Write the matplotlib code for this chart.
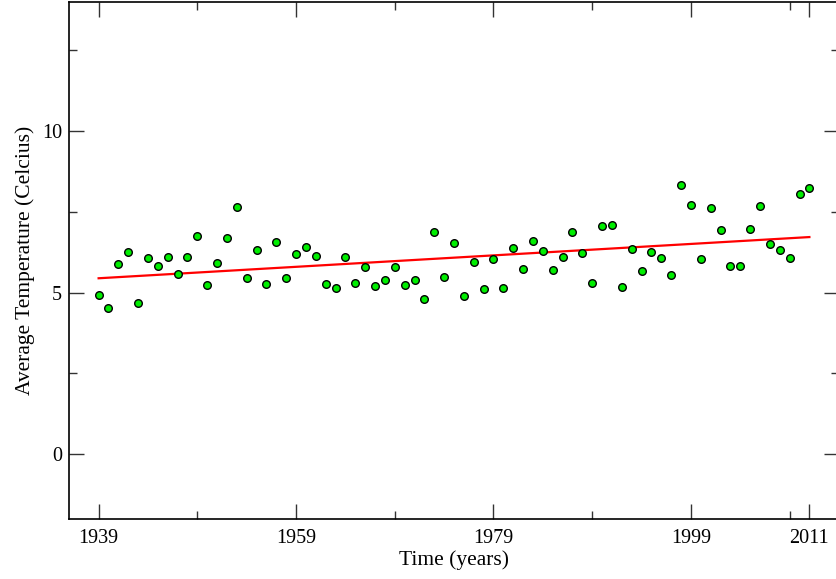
import numpy as np
import matplotlib
matplotlib.use("Agg")
import matplotlib.pyplot as plt
from matplotlib.ticker import FixedLocator

plt.rcParams["font.family"] = ["Liberation Serif", "DejaVu Serif"]

years = np.arange(1939, 2012)
temps = [
    4.94, 4.53, 5.87, 6.26, 4.68, 6.08, 5.82, 6.11, 5.59, 6.11,
    6.75, 5.22, 5.90, 6.68, 7.66, 5.45, 6.31, 5.26, 6.56, 5.46,
    6.19, 6.42, 6.13, 5.27, 5.15, 6.10, 5.29, 5.78, 5.19, 5.38,
    5.78, 5.23, 5.39, 4.80, 6.87, 5.49, 6.52, 4.89, 5.94, 5.12,
    6.04, 5.15, 6.39, 5.72, 6.58, 6.29, 5.71, 6.10, 6.88, 6.23,
    5.29, 7.06, 7.10, 5.17, 6.35, 5.67, 6.27, 6.06, 5.53, 8.33,
    7.71, 6.04, 7.61, 6.93, 5.83, 5.81, 6.97, 7.68, 6.49, 6.32,
    6.07, 8.04, 8.24,
]
x_major = [1939, 1959, 1979, 1999, 2011]
x_minor = [1949, 1969, 1989, 2009]

temps = np.array(temps)
slope, intercept = np.polyfit(years, temps, 1)

# right edge of the axes runs just past the picture, as in the reference
fig = plt.figure(figsize=(8.36, 5.79), dpi=100)
ax = fig.add_axes([69 / 836, 60 / 579, 770 / 836, 517.5 / 579])

ax.plot(years, slope * years + intercept, color="red", lw=1.6, zorder=2)
ax.scatter(years, temps, s=30, c="#00ee00", edgecolors="black",
           linewidths=1.0, zorder=3)

ax.set_xlim(1936, 2014)
ax.set_ylim(-2, 14)
ax.xaxis.set_major_locator(FixedLocator(x_major))
ax.xaxis.set_minor_locator(FixedLocator(x_minor))
ax.set_yticks([0, 5, 10])
ax.yaxis.set_minor_locator(FixedLocator([2.5, 7.5, 12.5]))

ax.tick_params(which="both", direction="in", top=True, right=True,
               labelsize=14.5, width=1.0, color="#333333")
ax.tick_params(axis="x", pad=7)
ax.tick_params(axis="y", pad=5)
ax.tick_params(which="major", length=11)
ax.tick_params(which="minor", length=5.5)
for sp in ax.spines.values():
    sp.set_linewidth(1.2)

ax.set_xlabel("Time (years)", fontsize=15.5, labelpad=1.5)
ax.set_ylabel("Average Temperature (Celcius)", fontsize=15.5, labelpad=5)

fig.savefig("out.png", dpi=100)
